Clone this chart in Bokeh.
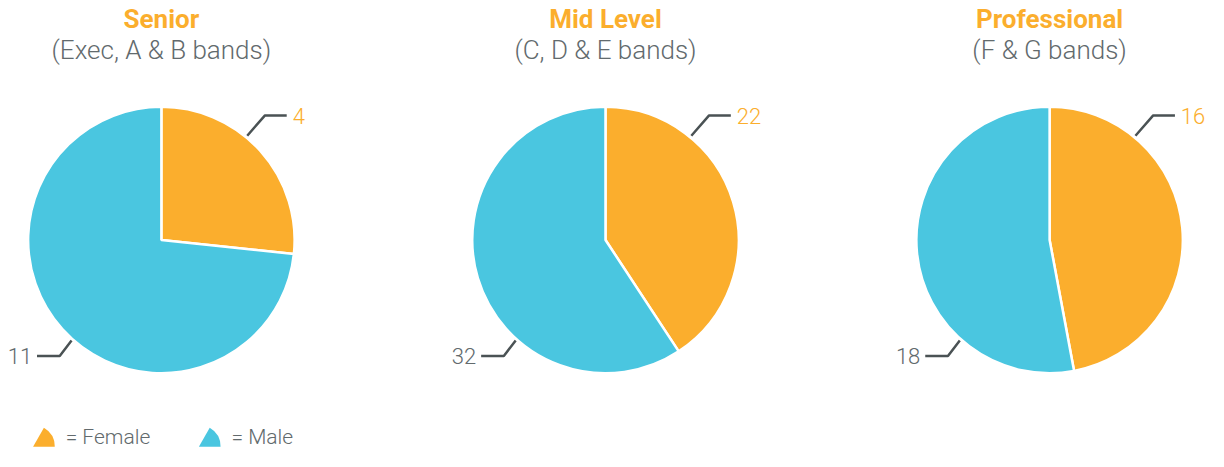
import math
from bokeh.plotting import figure
from bokeh.models import Range1d
from bokeh.core.properties import value
from bokeh.embed import file_html
from bokeh.resources import INLINE

# ---- data ----
groups = ["Senior", "Mid Level", "Professional"]
subtitles = ["(Exec, A & B bands)", "(C, D & E bands)", "(F & G bands)"]
female = [4, 22, 16]
male = [11, 32, 18]
legend_labels = ["= Female", "= Male"]

ORANGE = "#FBAE2D"
BLUE = "#4AC6E0"
GREY = "#626a6d"
LINE = "#4a5254"

# layout coordinates expressed in a 1224 x 467 design space
DW, DH = 1224, 467
W, H = 1208, 451
p = figure(width=W, height=H, x_range=Range1d(0, DW), y_range=Range1d(0, DH),
           output_backend="svg", toolbar_location=None, min_border=0)
p.axis.visible = False
p.grid.visible = False
p.outline_line_color = None
p.background_fill_color = "white"
p.border_fill_color = "white"

R = 135
cy = DH - 248
centers = [163 + 450 * i for i in range(3)]

for cx, f, m, g, sub in zip(centers, female, male, groups, subtitles):
    tot = f + m
    a0 = math.pi / 2
    a1 = a0 - 2 * math.pi * f / tot
    a2 = a0 - 2 * math.pi
    p.wedge(x=[cx], y=[cy], radius=R, start_angle=[a0], end_angle=[a1],
            direction="clock", fill_color=ORANGE, line_color="white", line_width=2.5)
    p.wedge(x=[cx], y=[cy], radius=R, start_angle=[a1], end_angle=[a2],
            direction="clock", fill_color=BLUE, line_color="white", line_width=2.5)
    # titles
    p.text(x=[cx], y=[DH - 19], text=[g], text_font=value("Roboto"), text_font_style="bold",
           text_font_size="26px", text_color=ORANGE, text_align="center", text_baseline="middle")
    p.text(x=[cx], y=[DH - 51], text=[sub], text_font=value("Roboto Light"),
           text_font_size="26px", text_color=GREY, text_align="center", text_baseline="middle")
    # leader lines
    p.multi_line(xs=[[cx + 87, cx + 105, cx + 127], [cx - 126, cx - 103, cx - 91]],
                 ys=[[DH - 140, DH - 119, DH - 119], [DH - 368, DH - 368, DH - 352]],
                 line_color=LINE, line_width=2.5)
    p.text(x=[cx + 133], y=[DH - 120], text=[str(f)], text_font=value("Roboto Light"),
           text_font_size="22px", text_color=ORANGE, text_align="left", text_baseline="middle")
    p.text(x=[cx - 131], y=[DH - 368], text=[str(m)], text_font=value("Roboto Light"),
           text_font_size="22px", text_color=GREY, text_align="right", text_baseline="middle")

# legend
for lx, col, lab in zip([33, 201], [ORANGE, BLUE], legend_labels):
    p.wedge(x=[lx], y=[DH - 462], radius=22, start_angle=[0], end_angle=[math.pi / 3],
            fill_color=col, line_color=None)
    p.text(x=[lx + 33], y=[DH - 452], text=[lab], text_font=value("Roboto Light"),
           text_font_size="21px", text_color=GREY, text_align="left", text_baseline="middle")

open("out.html", "w").write(file_html(p, INLINE))
